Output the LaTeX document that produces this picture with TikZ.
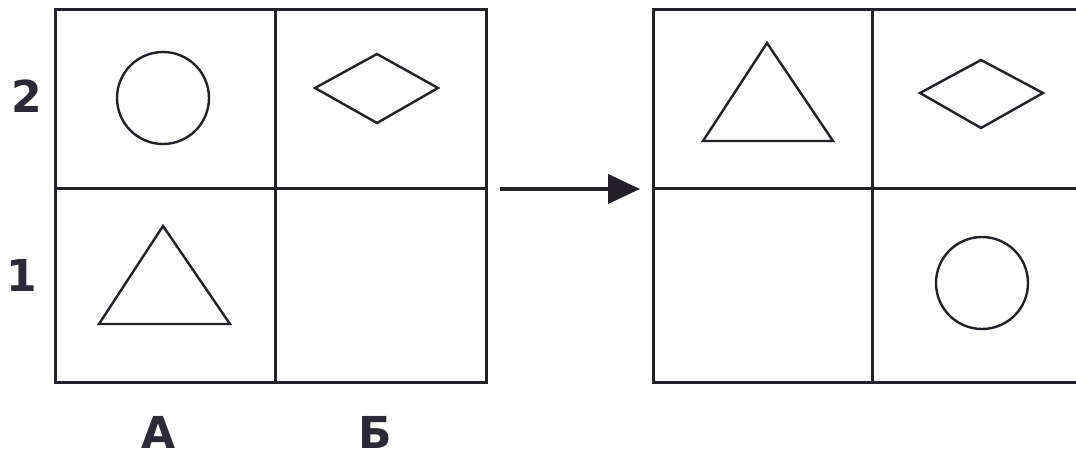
\documentclass[tikz,border=0pt]{standalone}
\usepackage{fontspec}
\setmainfont{DejaVu Sans}
\usetikzlibrary{arrows.meta}
\definecolor{ink}{RGB}{35,32,40}
\definecolor{labelink}{RGB}{45,42,55}
\tikzset{
  gridline/.style={draw=ink, line width=3pt, line cap=rect},
  shapeline/.style={draw=ink, line width=2.4pt, line join=miter},
  label/.style={text=labelink, font=\fontsize{44}{44}\selectfont\bfseries, inner sep=0pt, anchor=center},
}
\begin{document}
\begin{tikzpicture}[x=1pt,y=-1pt]
\useasboundingbox (0,0) rectangle (1076,457);
% left grid
\draw[gridline] (55,10) rectangle (486,382);
\draw[gridline] (275,10) -- (275,382);
\draw[gridline] (55,189) -- (486,189);
% right grid (right edge cut off)
\draw[gridline] (1080,10) -- (653,10) -- (653,382) -- (1080,382);
\draw[gridline] (872,10) -- (872,382);
\draw[gridline] (653,189) -- (1080,189);
% left shapes
\draw[shapeline] (163,98) circle (46);
\draw[shapeline] (315,88) -- (377,54) -- (438,88) -- (377,123) -- cycle;
\draw[shapeline] (163,226) -- (230,324) -- (99,324) -- cycle;
% right shapes
\draw[shapeline] (767,43) -- (833,141) -- (703,141) -- cycle;
\draw[shapeline] (920,93) -- (981,60) -- (1043,93) -- (981,128) -- cycle;
\draw[shapeline] (982,283) circle (46);
% arrow
\coordinate (arrowstart) at (500,189);
\coordinate (arrowend) at (640,189);
\draw[draw=ink, line width=4pt, -{Triangle[length=32pt,width=29pt]}] (arrowstart) -- (arrowend);
% labels
\node[label] (row2) at (27,96) {2};
\node[label] (row1) at (22,275) {1};
\node[label] (colA) at (159,432) {А};
\node[label] (colB) at (375,432) {Б};
\end{tikzpicture}
\end{document}
